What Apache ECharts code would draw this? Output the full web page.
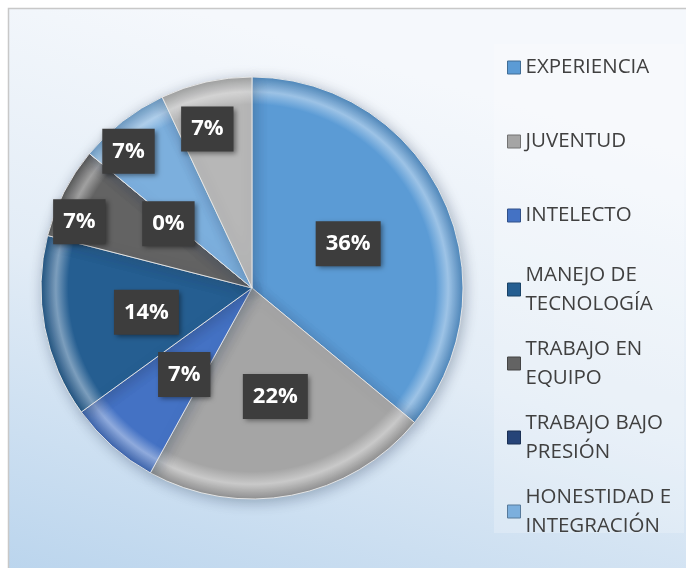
<!DOCTYPE html>
<html>
<head>
<meta charset="utf-8">
<script src="https://cdn.jsdelivr.net/npm/echarts@6/dist/echarts.min.js"></script>
<style>
  html, body { margin: 0; padding: 0; background: #fff; }
  #chart { width: 686px; height: 568px; }
</style>
</head>
<body>
<div id="chart"></div>
<script>
// slices, clockwise from 12 o'clock
var categories = ['EXPERIENCIA', 'JUVENTUD', 'INTELECTO', 'MANEJO DE TECNOLOGÍA',
  'TRABAJO EN EQUIPO', 'TRABAJO BAJO PRESIÓN', 'HONESTIDAD E INTEGRACIÓN', 'OTROS'];
var values = [36, 22, 7, 14, 7, 0, 7, 7];
var colors = ['#5b9bd5', '#a5a5a5', '#4472c4', '#255e91', '#636363', '#264478', '#7cafdd', '#b7b7b7'];
// legend text as shown (with line breaks), only the first 7 fit
var legendLines = ['EXPERIENCIA', 'JUVENTUD', 'INTELECTO', 'MANEJO DE\nTECNOLOGÍA',
  'TRABAJO EN\nEQUIPO', 'TRABAJO BAJO\nPRESIÓN', 'HONESTIDAD E\nINTEGRACIÓN'];
// nudges for the crowded small-slice labels (px)
var labelNudge = [[-2, 2], [3, 2], [4, 5], [1, 4], [-76, -17], [0, 5], [-57, -51], [-21, -53]];

var dom = document.getElementById('chart');
var myChart = echarts.init(dom, null, { renderer: 'canvas' });

var font = '"Open Sans", sans-serif';
var cx = 252, cy = 288, R = 211;

function shade(hex, amt) {
  var n = parseInt(hex.slice(1), 16);
  var r = (n >> 16) & 255, g = (n >> 8) & 255, b = n & 255;
  function f(c) { return Math.max(0, Math.min(255, Math.round(amt > 0 ? c + (255 - c) * amt : c * (1 + amt)))); }
  return 'rgb(' + f(r) + ',' + f(g) + ',' + f(b) + ')';
}

var pieData = categories.map(function (name, i) {
  return {
    name: name,
    value: values[i],
    itemStyle: {
      color: {
        type: 'radial', x: cx, y: cy, r: R, global: true,
        colorStops: [
          { offset: 0, color: colors[i] },
          { offset: 0.87, color: colors[i] },
          { offset: 0.93, color: shade(colors[i], 0.4) },
          { offset: 1, color: shade(colors[i], -0.12) }
        ]
      }
    }
  };
});

// one legend block per item so the rows keep a fixed pitch
var rowCenters = [67.5, 141.5, 215.5, 289.5, 363.5, 437.5, 511.5];
var legends = legendLines.map(function (txt, i) {
  var twoLines = txt.indexOf('\n') >= 0;
  return {
    data: [{ name: categories[i], icon: 'rect', itemStyle: { color: colors[i], borderColor: shade(colors[i], -0.3), borderWidth: 1 } }],
    orient: 'vertical',
    left: 507,
    top: twoLines ? rowCenters[i] - 43.5 : rowCenters[i] - 14.5,
    padding: 0,
    itemWidth: 13,
    itemHeight: 13,
    itemGap: 0,
    selectedMode: false,
    formatter: function () { return txt; },
    textStyle: {
      color: '#404040',
      fontSize: 20.5,
      fontFamily: font,
      lineHeight: 29,
      padding: twoLines ? [29, 0, 0, 0] : 0
    }
  };
});

var option = {
  backgroundColor: '#ffffff',
  animation: false,
  graphic: [
    {
      type: 'rect', z: -10,
      shape: { x: 8.5, y: 8.5, width: 700, height: 600 },
      style: {
        fill: {
          type: 'linear', x: 0.25, y: 0, x2: 0, y2: 1,
          colorStops: [
            { offset: 0, color: '#f5f8fc' },
            { offset: 0.45, color: '#e2ecf6' },
            { offset: 1, color: '#b6d2ec' }
          ]
        },
        stroke: '#c8c8c8', lineWidth: 1.5
      }
    },
    {
      type: 'rect', z: -9,
      shape: { x: 494, y: 44, width: 190, height: 489 },
      style: { fill: 'rgba(255,255,255,0.22)' }
    }
  ],
  legend: legends,
  series: [{
    name: 'Cualidades',
    type: 'pie',
    center: [cx, cy],
    radius: R,
    startAngle: 90,
    clockwise: true,
    avoidLabelOverlap: false,
    data: pieData,
    itemStyle: {
      borderColor: 'rgba(235,235,235,0.9)',
      borderWidth: 1,
      shadowBlur: 14,
      shadowColor: 'rgba(40,60,90,0.35)',
      shadowOffsetX: 2,
      shadowOffsetY: 3
    },
    label: {
      show: true,
      position: 'inside',
      formatter: function (p) { return Math.round(p.percent) + '%'; },
      color: '#ffffff',
      fontFamily: font,
      fontWeight: 'bold',
      fontSize: 22,
      lineHeight: 22,
      backgroundColor: '#3d3d3d',
      padding: [12, 10, 11, 10],
      shadowBlur: 5,
      shadowColor: 'rgba(0,0,0,0.45)',
      shadowOffsetX: 2,
      shadowOffsetY: 2
    },
    labelLine: { show: false },
    labelLayout: function (params) {
      var n = labelNudge[params.dataIndex];
      return { dx: n[0], dy: n[1], hideOverlap: false };
    },
    emphasis: { scale: false }
  }]
};

myChart.setOption(option);
window.addEventListener('resize', myChart.resize);
</script>
</body>
</html>
